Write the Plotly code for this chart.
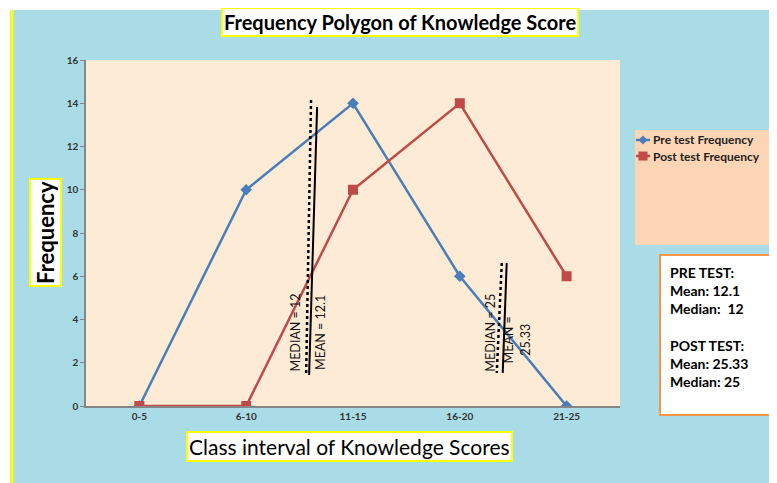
import plotly.graph_objects as go

categories = ['0-5', '6-10', '11-15', '16-20', '21-25']
pre_freq = [0, 10, 14, 6, 0]
post_freq = [0, 0, 10, 14, 6]
y_ticks = [0, 2, 4, 6, 8, 10, 12, 14, 16]

series_names = ['Pre test Frequency', 'Post test Frequency']
pre_mean, pre_median = '12.1', '12'
post_mean, post_median = '25.33', '25'

BLUE = '#4A7EBB'
RED = '#BE4B48'
FONT = 'Lato'

# plot area is 534 x 346 px; helpers to convert px offsets to paper units
PW, PH = 534.0, 346.0

fig = go.Figure()
fig.add_trace(go.Scatter(x=categories, y=pre_freq, name=series_names[0], mode='lines+markers',
                         line=dict(color=BLUE, width=2.5),
                         marker=dict(symbol='diamond', size=9, color=BLUE)))
fig.add_trace(go.Scatter(x=categories, y=post_freq, name=series_names[1], mode='lines+markers',
                         line=dict(color=RED, width=2.5),
                         marker=dict(symbol='square', size=10, color=RED)))

shapes = [
    # white strips and yellow edge
    dict(type='rect', xref='paper', yref='paper', x0=-0.3, x1=1.4, y0=1.1445, y1=1.3,
         fillcolor='white', line_width=0, layer='below'),
    dict(type='rect', xref='paper', yref='paper', x0=-0.3, x1=-0.1423, y0=-0.3, y1=1.3,
         fillcolor='white', line_width=0, layer='below'),
    dict(type='line', xref='paper', yref='paper', x0=-0.1386, x1=-0.1386, y0=-0.25, y1=1.1445,
         line=dict(color='#FFFF00', width=3)),
    # legend background
    dict(type='rect', xref='paper', yref='paper', x0=1.028, x1=1.3, y0=0.465, y1=0.798,
         fillcolor='#FCD5B5', line_width=0),
    # stats box
    dict(type='rect', xref='paper', yref='paper', x0=1.0749, x1=1.2809, y0=-0.026, y1=0.4364,
         fillcolor='white', line=dict(color='#F79646', width=2)),
    # mean / median markers
    dict(type='line', x0=1.607, x1=1.561, y0=14.15, y1=1.43, line=dict(color='black', width=2.5, dash='dot')),
    dict(type='line', x0=1.664, x1=1.589, y0=13.83, y1=1.43, line=dict(color='black', width=2)),
    dict(type='line', x0=3.393, x1=3.346, y0=6.61, y1=1.53, line=dict(color='black', width=2.5, dash='dot')),
    dict(type='line', x0=3.439, x1=3.402, y0=6.61, y1=1.53, line=dict(color='black', width=2)),
]

# hand-drawn legend (kept inside the peach box)
leg_x0, leg_x1, leg_xc, leg_tx = 1.030, 1.0562, 1.0431, 1.0580
leg_rows = [0.7688, 0.7225]
dx, dy = 4.5 / PW, 4.5 / PH
for row, color in zip(leg_rows, [BLUE, RED]):
    shapes.append(dict(type='line', xref='paper', yref='paper', x0=leg_x0, x1=leg_x1, y0=row, y1=row,
                       line=dict(color=color, width=2.5)))
diamond = (f'M {leg_xc - dx} {leg_rows[0]} L {leg_xc} {leg_rows[0] + dy} '
           f'L {leg_xc + dx} {leg_rows[0]} L {leg_xc} {leg_rows[0] - dy} Z')
shapes.append(dict(type='path', xref='paper', yref='paper', path=diamond, fillcolor=BLUE, line_width=0))
shapes.append(dict(type='rect', xref='paper', yref='paper', x0=leg_xc - dx, x1=leg_xc + dx,
                   y0=leg_rows[1] - dy, y1=leg_rows[1] + dy, fillcolor=RED, line_width=0))

box_style = dict(xref='paper', yref='paper', showarrow=False, xanchor='center', yanchor='middle',
                 bgcolor='white', bordercolor='#FFFF00', borderwidth=2, borderpad=1)
label_font = dict(family=FONT, size=12.5, color='#111111')
annotations = [
    dict(text='Frequency Polygon of Knowledge Score', x=0.588, y=1.109,
         font=dict(family=FONT, size=20, color='black', weight='bold'), **box_style),
    dict(text='Class interval of Knowledge Scores', x=0.494, y=-0.116,
         font=dict(family=FONT, size=21, color='black'), **box_style),
    dict(text='Frequency', x=-0.075, y=0.503, textangle=-90,
         font=dict(family=FONT, size=22, color='black', weight='bold'), **box_style),
    dict(text=f'MEDIAN = {pre_median}', x=1.462, y=3.38, textangle=-90, showarrow=False, font=label_font),
    dict(text=f'MEAN = {pre_mean}', x=1.690, y=3.42, textangle=-90, showarrow=False, font=label_font),
    dict(text=f'MEDIAN = {post_median}', x=3.29, y=3.38, textangle=-90, showarrow=False, font=label_font),
    dict(text=f'MEAN =<br>{post_mean}', x=3.530, y=3.05, textangle=-90, showarrow=False, font=label_font),
    dict(text=(f'PRE TEST:<br>Mean: {pre_mean}<br>Median:  {pre_median}<br><br>'
               f'POST TEST:<br>Mean: {post_mean}<br>Median: {post_median}'),
         xref='paper', yref='paper', x=1.090, y=0.415, xanchor='left', yanchor='top', align='left',
         showarrow=False, font=dict(family=FONT, size=14, color='black', weight='bold')),
]
for row, name in zip(leg_rows, series_names):
    annotations.append(dict(text=name, xref='paper', yref='paper', x=leg_tx, y=row, xanchor='left',
                            yanchor='middle', showarrow=False,
                            font=dict(family=FONT, size=12, color='#222222', weight='bold')))

fig.update_layout(
    # page body adds an 8px offset, so the figure is drawn 8px smaller
    width=769, height=475,
    margin=dict(l=78, r=157, t=52, b=77),
    paper_bgcolor='#A9DCE6',
    plot_bgcolor='#FDEBD5',
    shapes=shapes,
    annotations=annotations,
    showlegend=False,
    xaxis=dict(type='category', range=[-0.5, 4.5], showgrid=False, zeroline=False,
               showline=True, linecolor='#868686', linewidth=1.5,
               ticks='', tickfont=dict(family=FONT, size=10, color='#333333', weight='bold')),
    yaxis=dict(range=[0, 16], tickvals=y_ticks, showgrid=False, zeroline=False,
               showline=True, linecolor='#868686', linewidth=1.5,
               ticks='outside', ticklen=4, tickcolor='#868686',
               tickfont=dict(family=FONT, size=10, color='#333333', weight='bold')),
)

fig.write_html("out.html")
